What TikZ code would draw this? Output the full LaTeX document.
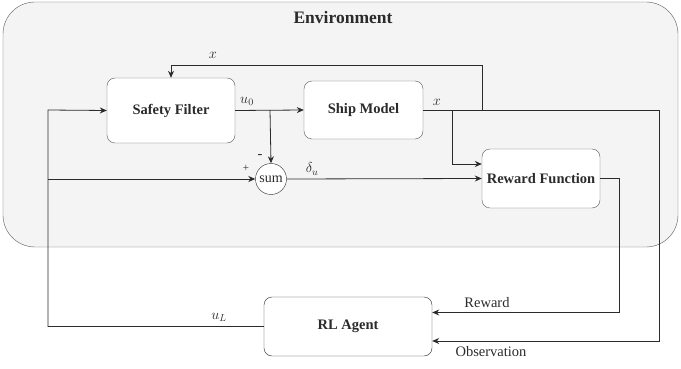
\documentclass[tikz,border=0pt]{standalone}
\usepackage{fontspec}
\setmainfont{Liberation Serif}
\usetikzlibrary{arrows.meta}
\definecolor{envfill}{HTML}{F4F4F4}
\definecolor{edgegray}{HTML}{5A5A5A}
\definecolor{ink}{HTML}{2B2B2B}
\tikzstyle{block}=[%
	draw=edgegray, fill=white, rounded corners=8pt, inner sep=0,
	text=ink, font=\bfseries\fontsize{14.5}{17}\selectfont
]
\tikzstyle{wire}=[draw=ink, line width=0.8pt]
\tikzstyle{arr}=[wire, -{Stealth[length=7pt,width=6pt]}]
\tikzstyle{lbl}=[inner sep=0, text=ink, font=\fontsize{14.5}{17}\selectfont]

\begin{document}
\begin{tikzpicture}[x=1pt, y=-1pt]
	\useasboundingbox (0,0) rectangle (681,369);
	\draw[draw=edgegray, fill=envfill, rounded corners=32pt] (3,2) rectangle (678,247);
	\node[lbl, font=\bfseries\fontsize{17.5}{20}\selectfont] (envtitle) at (343,18) {Environment};

	\node[block, minimum width=128pt, minimum height=65pt] (filter) at (171,110.5) {Safety Filter};
	\node[block, minimum width=119pt, minimum height=58pt] (ship) at (363.5,110) {Ship Model};
	\node[block, minimum width=118pt, minimum height=59pt] (reward) at (541,178.5) {Reward Function};
	\node[block, draw=ink, minimum width=168pt, minimum height=59pt] (agent) at (348,326.5) {RL Agent};
	\node[circle, draw=ink, fill=white, inner sep=0, minimum size=31pt, text=ink,
		font=\fontsize{14}{16}\selectfont] (sum) at (271,179) {sum};

	\coordinate (left) at (48,110);
	\coordinate (tap) at (48,179);
	\coordinate (ubr) at (270,110);
	\coordinate (xbr) at (452,110);
	\coordinate (fb) at (482,110);
	\coordinate (obs) at (659,110);

	% agent output back into the filter
	\draw[arr] (agent.west) -| (left) -- (filter.west);
	\draw[arr] (tap) -- (sum.west);
	\draw[arr] (filter.east) -- (ship.west);
	\draw[arr] (ubr) -- (sum.north);
	\draw[arr] (sum.east) -- (reward.west);

	% ship state
	\draw[arr] (ship.east) -- (obs) |- ([yshift=-14.5pt]agent.east);
	\draw[arr] (xbr) |- ([yshift=14.5pt]reward.west);
	\draw[arr] (fb) |- (filter.north |- 0,65) -- (filter.north);
	\draw[arr] (reward.east) -| (619,312.5) -- ([yshift=14pt]agent.east);

	\node[lbl] (xtop) at (213,55) {$x$};
	\node[lbl] (xout) at (437,102) {$x$};
	\node[lbl] (u0) at (247,101) {$u_0$};
	\node[lbl] (du) at (312,169) {$\delta_u$};
	\node[lbl] (uL) at (219,317) {$u_L$};
	\node[lbl, font=\fontsize{11}{12}\selectfont] (plus) at (246,168) {+};
	\node[lbl] (minus) at (260,157) {-};
	\node[lbl] (rwd) at (487,303) {Reward};
	\node[lbl] (obsl) at (491,352) {Observation};
\end{tikzpicture}
\end{document}
